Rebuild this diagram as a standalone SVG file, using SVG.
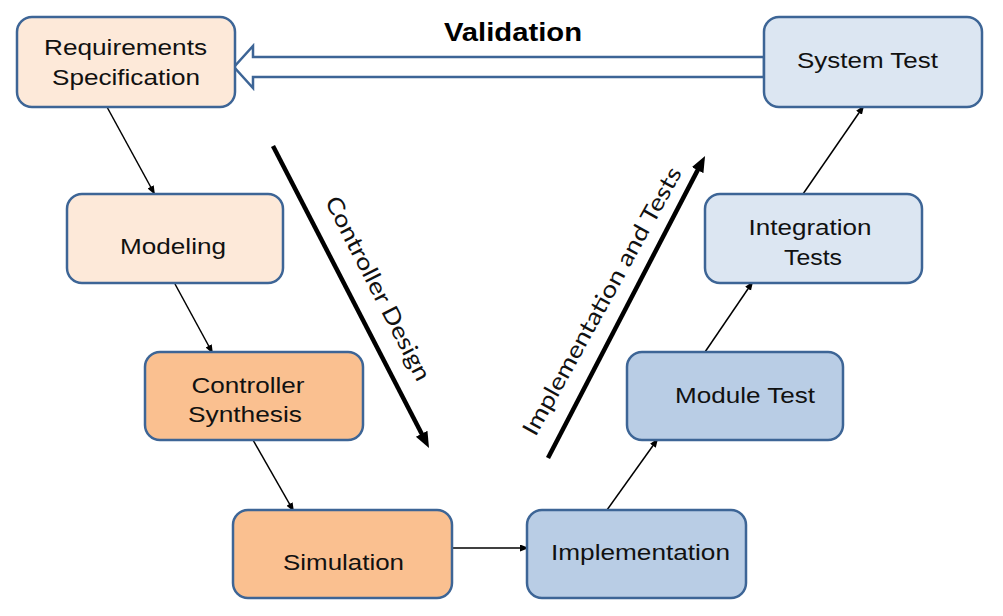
<svg xmlns="http://www.w3.org/2000/svg" width="1003" height="616" viewBox="0 0 1003 616">
<defs>
<style>
.node rect{stroke:#3d6596;stroke-width:2.5}
.peach rect{fill:#fde9d9}
.orange rect{fill:#fac090}
.blue rect{fill:#b9cde5}
.lblue rect{fill:#dce6f2}
.lbl{font-family:"Liberation Sans",Arial,sans-serif;font-size:22px;fill:#111;text-anchor:middle}
.conn line{stroke:#000;stroke-width:1.5}
.thick{stroke:#000;stroke-width:4.5}
.diag{font-family:Lato,"Open Sans",sans-serif;font-size:23px;fill:#111;text-anchor:middle}
</style>
<marker id="ah" markerUnits="userSpaceOnUse" markerWidth="10" markerHeight="8" refX="7" refY="3.5" orient="auto" viewBox="0 0 10 8">
<path d="M0,0 L9,3.5 L0,7 z" fill="#000"/>
</marker>
<marker id="bh" markerUnits="userSpaceOnUse" markerWidth="18" markerHeight="14" refX="4" refY="6.5" orient="auto" viewBox="0 0 18 14">
<path d="M0,0 L16,6.5 L0,13 z" fill="#000"/>
</marker>
</defs>
<rect width="1003" height="616" fill="#fff"/>

<g id="validation">
<polygon points="764,57 253,57 253,46 234,67 253,88 253,77 764,77" fill="#fff" stroke="#3d6596" stroke-width="2.5" stroke-linejoin="miter"/>
<text x="513" y="41" font-family="'Liberation Sans',Arial,sans-serif" font-size="25" font-weight="bold" fill="#000" text-anchor="middle" textLength="138" lengthAdjust="spacingAndGlyphs">Validation</text>
</g>

<g id="connectors" class="conn">
<line x1="107" y1="107" x2="154" y2="193" marker-end="url(#ah)"/>
<line x1="175" y1="284" x2="212" y2="352" marker-end="url(#ah)"/>
<line x1="253" y1="440" x2="293" y2="510" marker-end="url(#ah)"/>
<line x1="452" y1="548" x2="527" y2="548" marker-end="url(#ah)"/>
<line x1="607" y1="510" x2="657" y2="440" marker-end="url(#ah)"/>
<line x1="705" y1="352" x2="752" y2="283" marker-end="url(#ah)"/>
<line x1="803" y1="194" x2="863" y2="107" marker-end="url(#ah)"/>
</g>

<g id="controller-design">
<line class="thick" x1="273" y1="146" x2="423.5" y2="437.3" marker-end="url(#bh)"/>
<text class="diag" transform="translate(371,292) rotate(62.9)" textLength="204" lengthAdjust="spacingAndGlyphs">Controller Design</text>
</g>

<g id="implementation-and-tests">
<line class="thick" x1="548" y1="458" x2="699.5" y2="166.6" marker-end="url(#bh)"/>
<text class="diag" transform="translate(609,305) rotate(-61)" textLength="303" lengthAdjust="spacingAndGlyphs">Implementation and Tests</text>
</g>

<g id="requirements" class="node peach">
<rect x="17" y="17" width="218" height="90" rx="15"/>
<text class="lbl" x="125.5" y="55" textLength="163" lengthAdjust="spacingAndGlyphs">Requirements</text>
<text class="lbl" x="126" y="85" textLength="148" lengthAdjust="spacingAndGlyphs">Specification</text>
</g>

<g id="modeling" class="node peach">
<rect x="67" y="194" width="216" height="89" rx="15"/>
<text class="lbl" x="173" y="254" textLength="106" lengthAdjust="spacingAndGlyphs">Modeling</text>
</g>

<g id="controller-synthesis" class="node orange">
<rect x="145" y="352" width="218" height="88" rx="15"/>
<text class="lbl" x="248" y="393" textLength="113" lengthAdjust="spacingAndGlyphs">Controller</text>
<text class="lbl" x="245" y="422" textLength="114" lengthAdjust="spacingAndGlyphs">Synthesis</text>
</g>

<g id="simulation" class="node orange">
<rect x="233" y="510" width="219" height="88" rx="15"/>
<text class="lbl" x="343.5" y="570" textLength="121" lengthAdjust="spacingAndGlyphs">Simulation</text>
</g>

<g id="implementation" class="node blue">
<rect x="527" y="510" width="219" height="88" rx="15"/>
<text class="lbl" x="640.5" y="560" textLength="179" lengthAdjust="spacingAndGlyphs">Implementation</text>
</g>

<g id="module-test" class="node blue">
<rect x="627" y="352" width="216" height="88" rx="15"/>
<text class="lbl" x="745" y="403" textLength="140" lengthAdjust="spacingAndGlyphs">Module Test</text>
</g>

<g id="integration-tests" class="node lblue">
<rect x="705" y="194" width="217" height="89" rx="15"/>
<text class="lbl" x="810" y="235" textLength="123" lengthAdjust="spacingAndGlyphs">Integration</text>
<text class="lbl" x="813" y="265" textLength="58" lengthAdjust="spacingAndGlyphs">Tests</text>
</g>

<g id="system-test" class="node lblue">
<rect x="764" y="17" width="218" height="90" rx="15"/>
<text class="lbl" x="867.5" y="68" textLength="141" lengthAdjust="spacingAndGlyphs">System Test</text>
</g>
</svg>
